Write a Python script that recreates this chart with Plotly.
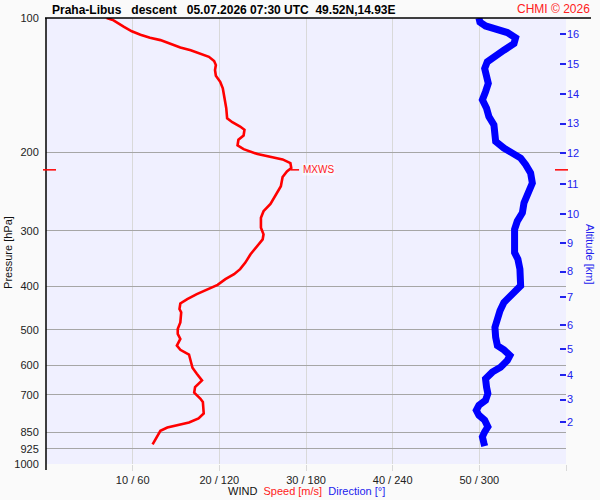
import math
import plotly.graph_objects as go

# ---- data ----
speed_p = [100, 101.2, 104.7, 107.1, 109, 110.7, 112.1, 114.5, 116.5, 118.1, 120.1, 122.2, 124.9, 127.5,
           130.8, 134.7, 139, 143.8, 151.4, 159.4, 167.8, 171.3, 175.1, 178.1, 183.4, 187.5, 193.1, 196.8,
           201.9, 204.6, 207.5, 211.5, 217, 220.7, 227.3, 238.4, 248.8, 261.1, 271.1, 280.5, 295.3, 305.5,
           313.5, 324.5, 338.6, 353.5, 365.7, 375.3, 385.1, 396.5, 405.4, 415.9, 426.7, 436.5, 449.3, 457.1,
           481.3, 497.9, 510.9, 524.2, 542.6, 554.6, 568.2, 591.1, 608.4, 627.4, 649.4, 672.3, 691.8, 713.3,
           725.9, 770.3, 790.7, 807.1, 818.4, 828.1, 842.7, 871.8, 903.7]
speed_ms = [7.0, 7.8, 9.0, 9.9, 10.9, 12.0, 13.2, 14.4, 15.5, 16.7, 17.8, 18.8, 19.4, 19.6, 19.5, 19.6,
            20.1, 20.4, 20.6, 20.8, 20.9, 21.5, 22.4, 22.9, 22.8, 22.2, 22.1, 22.8, 24.4, 25.9, 27.3, 28.2,
            28.3, 27.8, 27.3, 27.1, 26.5, 25.9, 25.1, 24.8, 24.8, 25.1, 25.0, 24.4, 23.6, 23.0, 22.4, 21.7,
            20.7, 19.8, 18.6, 17.4, 16.3, 15.5, 15.4, 15.6, 15.5, 15.2, 15.2, 15.5, 15.1, 15.5, 16.5, 16.7,
            16.9, 17.4, 18.0, 17.2, 17.1, 17.8, 18.1, 18.2, 17.6, 16.5, 15.1, 14.0, 13.2, 12.8, 12.3]

dir_p = [100, 102.1, 104.2, 105.7, 107.8, 110.8, 114.1, 118.1, 122.2, 125.4, 129.8, 134.2, 140.2, 146.3,
         152.6, 159.4, 166.3, 173.6, 181.2, 189.1, 195.7, 200.9, 206.1, 213.2, 222.6, 234.4, 246.7, 259.8,
         273.4, 285.3, 297.7, 316.2, 335.8, 347.4, 365.7, 398.5, 408.9, 419.6, 434.3, 453.2, 473, 493.8,
         520, 542.6, 554.6, 571, 586, 606.5, 622.3, 643.9, 672.3, 695.3, 719.7, 738.5, 757.7, 777.5,
         797.6, 825.5, 847.1, 869.2, 899.1, 911.7]
dir_deg = [299.7, 300.4, 304.3, 311.3, 319.4, 325.1, 324.0, 317.0, 310.1, 305.5, 303.7, 304.3, 306.2,
           304.3, 302.1, 305.0, 306.6, 310.1, 310.6, 311.3, 317.0, 324.0, 328.6, 332.1, 335.5, 336.7,
           334.3, 330.9, 329.8, 326.3, 324.4, 324.0, 324.4, 326.7, 328.1, 328.6, 325.1, 320.5, 317.0,
           314.3, 312.5, 310.8, 311.3, 312.5, 317.0, 321.2, 319.4, 314.7, 309.0, 304.3, 305.0, 305.9,
           304.3, 299.7, 297.9, 299.7, 303.7, 305.9, 303.7, 302.1, 303.2, 303.7]

p_ticks = [100, 200, 300, 400, 500, 600, 700, 850, 925, 1000]
x_ticks = [10, 20, 30, 40, 50, 60]
x_ticklabels = ["10 / 60", "20 / 120", "30 / 180", "40 / 240", "50 / 300", ""]
alt_km = [2, 3, 4, 5, 6, 7, 8, 9, 10, 11, 12, 13, 14, 15, 16]
alt_p = [807.0, 717.1, 630.6, 551.7, 487.8, 423.2, 370.3, 319.6, 274.9, 235.6, 201.2, 172.4, 147.8, 126.6, 108.7]
mxws_p = 219
mxws_speed = 28.2

title_text = "Praha-Libus\u00a0\u00a0\u00a0descent\u00a0\u00a0\u00a005.07.2026 07:30 UTC\u00a0\u00a049.52N,14.93E"

FONT = "Liberation Sans, Arial, sans-serif"

fig = go.Figure()
fig.add_trace(go.Scatter(x=speed_ms, y=speed_p, mode="lines", line=dict(color="#ff0000", width=2.6),
                         xaxis="x", yaxis="y", showlegend=False, hoverinfo="skip"))
fig.add_trace(go.Scatter(x=dir_deg, y=dir_p, mode="lines", line=dict(color="#0000ff", width=7),
                         xaxis="x2", yaxis="y2", showlegend=False, hoverinfo="skip"))

pr = [math.log10(1000), math.log10(100)]

fig.update_layout(
    width=600, height=500,
    margin=dict(l=46, r=34, t=16, b=36),
    paper_bgcolor="#fafafa", plot_bgcolor="#f0f0ff",
    font=dict(family=FONT, size=11, color="#222"),
    xaxis=dict(range=[0, 60], tickvals=x_ticks, ticktext=x_ticklabels, showgrid=True,
               gridcolor="#d9d9d9", gridwidth=1, zeroline=False, showline=False,
               ticks="outside", ticklen=6, tickcolor="#d9d9d9", tickfont=dict(size=11, color="#222")),
    xaxis2=dict(range=[0, 360], overlaying="x", visible=False),
    yaxis=dict(type="log", range=pr, tickvals=p_ticks, ticktext=[str(v) for v in p_ticks],
               showgrid=True, gridcolor="#a6a6a6", gridwidth=1, zeroline=False, showline=False,
               ticks="outside", ticklen=4, tickcolor="rgba(0,0,0,0)", tickfont=dict(size=11, color="#222")),
    yaxis2=dict(type="log", range=pr, overlaying="y", side="right", anchor="x",
                tickvals=alt_p, ticktext=[str(k) for k in alt_km], showgrid=False, zeroline=False,
                ticks="inside", ticklen=6, tickwidth=1.5, tickcolor="#2222ee",
                tickfont=dict(size=11, color="#2222ee"), showline=False),
)

# MXWS marker position in paper coordinates
mx_y = (pr[0] - math.log10(mxws_p)) / (pr[0] - pr[1])
pw = 600 - 46 - 34
ph = 500 - 16 - 36

shapes = [
    # top black rule
    dict(type="line", xref="paper", yref="paper", x0=-1 / pw, x1=(591 - 46) / pw, y0=1, y1=1,
         line=dict(color="black", width=1.5)),
    # left axis line
    dict(type="line", xref="paper", yref="paper", x0=0, x1=0, y0=1, y1=-6 / ph,
         line=dict(color="black", width=1.5)),
    # MXWS marks at the edges
    dict(type="line", xref="paper", yref="paper", x0=-3 / pw, x1=10 / pw, y0=mx_y, y1=mx_y,
         line=dict(color="#ff0000", width=1.5)),
    dict(type="line", xref="paper", yref="paper", x0=1 - 11 / pw, x1=1 + 2 / pw, y0=mx_y, y1=mx_y,
         line=dict(color="#ff0000", width=1.5)),
    dict(type="line", xref="x", yref="paper", x0=mxws_speed, x1=mxws_speed + 1.0, y0=mx_y, y1=mx_y,
         line=dict(color="#ff0000", width=1.5)),
]
fig.update_layout(shapes=shapes)

annotations = [
    dict(text="<b>" + title_text + "</b>", xref="paper", yref="paper", x=4 / pw, y=1 + 8 / ph,
         xanchor="left", yanchor="middle", showarrow=False, font=dict(size=12, color="black", family=FONT)),
    dict(text="CHMI \u00a9 2026", xref="paper", yref="paper", x=(592 - 46) / pw, y=1 + 9 / ph,
         xanchor="right", yanchor="middle", showarrow=False, font=dict(size=12, color="#ff2020", family=FONT)),
    dict(text="MXWS", xref="x", yref="paper", x=mxws_speed + 1.3, y=mx_y, xanchor="left", yanchor="middle",
         showarrow=False, font=dict(size=10, color="#ff2020", family=FONT),
         bgcolor="rgba(255,255,255,0.5)", borderpad=0),
    dict(text="WIND\u00a0\u00a0<span style='color:#ff2020'>Speed [m/s]</span>\u00a0\u00a0"
              "<span style='color:#2222ee'>Direction [\u00b0]</span>",
         xref="paper", yref="paper", x=0.5, y=-27 / ph, xanchor="center", yanchor="middle",
         showarrow=False, font=dict(size=11, color="#111", family=FONT)),
    dict(text="Pressure [hPa]", xref="paper", yref="paper", x=-38 / pw, y=1 - (252 - 16) / ph,
         xanchor="center", yanchor="middle", textangle=-90, showarrow=False,
         font=dict(size=11, color="#111", family=FONT)),
    dict(text="Altitude [km]", xref="paper", yref="paper", x=1 + 24 / pw, y=1 - (253 - 16) / ph,
         xanchor="center", yanchor="middle", textangle=90, showarrow=False,
         font=dict(size=11, color="#2222ee", family=FONT)),
]
fig.update_layout(annotations=annotations)

fig.write_html("out.html", config={"displayModeBar": False},
               post_script="document.body.style.margin='0';document.body.style.background='#fafafa';")
